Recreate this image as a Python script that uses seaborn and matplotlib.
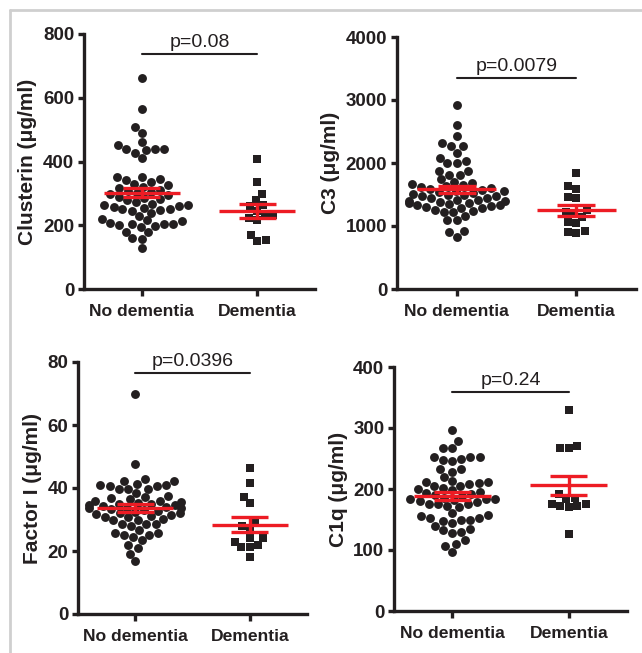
import numpy as np
import pandas as pd
import matplotlib
matplotlib.use("Agg")
import matplotlib.pyplot as plt
from matplotlib.lines import Line2D
import seaborn as sns

groups = ["No dementia", "Dementia"]

clusterin_nd = [661, 565, 508, 490, 461, 452, 440, 440, 440, 435, 428, 410,
                352, 350, 345, 342, 335, 330, 325, 320, 318, 312, 308, 305,
                300, 298, 295, 290, 285, 282, 278, 272, 268, 265, 262, 260,
                258, 255, 252, 250, 248, 245, 240, 230, 220, 215, 212, 208,
                205, 204, 203, 200, 198, 195, 180, 178, 160, 158, 130]
clusterin_d = [408, 335, 298, 280, 265, 260, 245, 232, 228, 222, 215, 168, 155, 150]

c3_nd = [2920, 2600, 2430, 2310, 2270, 2270, 2160, 2075, 2030, 2000, 2000, 1880,
         1880, 1810, 1810, 1740, 1700, 1680, 1660, 1650, 1630, 1620, 1600, 1580,
         1570, 1560, 1550, 1540, 1530, 1510, 1500, 1490, 1480, 1470, 1450, 1440,
         1420, 1410, 1400, 1390, 1380, 1370, 1360, 1350, 1340, 1330, 1320, 1300,
         1290, 1280, 1260, 1240, 1230, 1225, 1160, 1100, 1095, 915, 900, 830]
c3_d = [1836, 1635, 1582, 1455, 1440, 1260, 1227, 1185, 1148, 1068, 1054, 920, 905, 885]

factor_i_nd = [69.8, 47.7, 43.0, 42.3, 42.3, 41.3, 41.0, 41.0, 40.5, 40.5, 39.7,
               39.7, 39.7, 38.5, 37.5, 37.0, 36.8, 36.5, 36.0, 35.8, 35.5, 35.2,
               35.0, 34.8, 34.6, 34.5, 34.2, 34.0, 33.8, 33.6, 33.5, 33.2, 33.0,
               32.8, 32.5, 32.2, 32.0, 31.8, 31.5, 31.0, 30.7, 30.7, 30.2, 29.8,
               29.8, 28.5, 28.5, 28.5, 28.0, 26.7, 25.6, 25.6, 25.1, 25.1, 24.5,
               23.4, 21.8, 20.9, 19.1, 16.7]
factor_i_d = [46.3, 41.7, 37.2, 35.1, 28.8, 27.9, 26.8, 24.0, 24.0, 23.0, 21.8, 21.2, 21.2, 18.2]

c1q_nd = [297, 278, 267, 267, 253, 253, 252, 250, 248, 246, 233, 232, 228, 220,
          213, 212, 212, 210, 209, 205, 205, 202, 200, 198, 195, 193, 191, 190,
          188, 186, 184, 183, 183, 182, 180, 178, 176, 175, 175, 172, 170, 160,
          158, 155, 153, 152, 150, 150, 148, 145, 140, 135, 133, 130, 128, 116,
          110, 106, 97]
c1q_d = [329, 270, 268, 267, 192, 186, 183, 176, 176, 172, 172, 170, 127]

# mean and SEM
means = {"clusterin": [302, 245], "c3": [1585, 1250], "factor_i": [33.7, 28.4], "c1q": [189, 206]}
sems = {"clusterin": [13.5, 21.5], "c3": [55, 87], "factor_i": [1.25, 2.4], "c1q": [6.3, 16]}

p_values = {"clusterin": "p=0.08", "c3": "p=0.0079", "factor_i": "p=0.0396", "c1q": "p=0.24"}
bracket_y = {"clusterin": 737, "c3": 3350, "factor_i": 76.5, "c1q": 359}
y_labels = {"clusterin": "Clusterin (μg/ml)", "c3": "C3 (μg/ml)",
            "factor_i": "Factor I (μg/ml)", "c1q": "C1q (μg/ml)"}
y_ticks = {"clusterin": [0, 200, 400, 600, 800], "c3": [0, 1000, 2000, 3000, 4000],
           "factor_i": [0, 20, 40, 60, 80], "c1q": [0, 100, 200, 300, 400]}
data = {"clusterin": (clusterin_nd, clusterin_d), "c3": (c3_nd, c3_d),
        "factor_i": (factor_i_nd, factor_i_d), "c1q": (c1q_nd, c1q_d)}

sns.set_style("ticks")
plt.rcParams["font.family"] = ["Liberation Sans", "DejaVu Sans"]
plt.rcParams["font.weight"] = "bold"

W, H = 642, 653
fig = plt.figure(figsize=(W / 100, H / 100), dpi=100)

# axes boxes in pixels: left, top, right, bottom
boxes = {"clusterin": (84, 34, 315, 289), "c3": (397, 37, 636, 289),
         "factor_i": (78, 362, 307, 614), "c1q": (394, 367, 627, 611)}

dark = "#231F20"
red = "#ED1C24"

for key, (l, t, r, b) in boxes.items():
    ax = fig.add_axes([l / W, (H - b) / H, (r - l) / W, (b - t) / H])
    nd, d = data[key]
    sns.swarmplot(x=["No dementia"] * len(nd), y=nd, order=groups, color=dark,
                  size=6.4, marker="o", linewidth=0, ax=ax, zorder=2)
    sns.swarmplot(x=["Dementia"] * len(d), y=d, order=groups, color=dark,
                  size=6.0, marker="s", linewidth=0, ax=ax, zorder=2)

    for i in range(2):
        m, s = means[key][i], sems[key][i]
        ax.hlines(m, i - 0.33, i + 0.33, color=red, lw=2.4, zorder=4)
        ax.hlines([m - s, m + s], i - 0.16, i + 0.16, color=red, lw=2.4, zorder=4)
        ax.vlines(i, m - s, m + s, color=red, lw=2.4, zorder=4)

    yb = bracket_y[key]
    ax.plot([0, 1], [yb, yb], color=dark, lw=1.5, clip_on=False)
    ax.annotate(p_values[key], xy=(0.5, yb), xytext=(0, 2), textcoords="offset points",
                ha="center", va="bottom", fontsize=14, fontweight="normal", color=dark,
                annotation_clip=False)

    ax.set_xlim(-0.5, 1.5)
    ax.set_ylim(0, y_ticks[key][-1])
    ax.set_yticks(y_ticks[key])
    ax.set_xlabel("")
    ax.set_ylabel(y_labels[key], fontsize=15, fontweight="bold", color=dark, labelpad=4)
    sns.despine(ax=ax)
    for sp in ["left", "bottom"]:
        ax.spines[sp].set_linewidth(2.4)
        ax.spines[sp].set_color(dark)
    ax.tick_params(width=2.4, length=4, colors=dark, pad=3)
    ax.tick_params(axis="y", labelsize=13.5)
    ax.tick_params(axis="x", length=5, pad=6, labelsize=12.6)
    for lab in ax.get_xticklabels() + ax.get_yticklabels():
        lab.set_fontweight("bold")

# light gray frame on the left and top
fig.add_artist(Line2D([10 / W, 10 / W], [0, 1 - 10 / H], transform=fig.transFigure,
                      color="#CFCFCF", lw=2))
fig.add_artist(Line2D([10 / W, 1], [1 - 10 / H, 1 - 10 / H], transform=fig.transFigure,
                      color="#CFCFCF", lw=2))

fig.savefig("out.png", dpi=100)
